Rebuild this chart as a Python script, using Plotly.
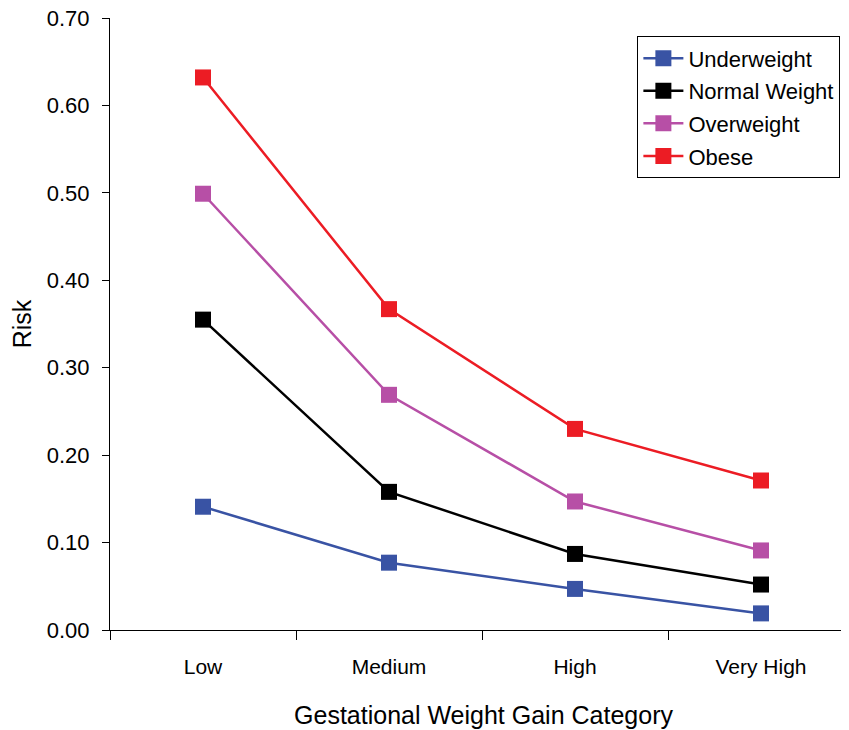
import plotly.graph_objects as go

# Data
categories = ['Low', 'Medium', 'High', 'Very High']
underweight = [0.141, 0.077, 0.047, 0.019]
normal_weight = [0.355, 0.158, 0.087, 0.052]
overweight = [0.499, 0.269, 0.147, 0.091]
obese = [0.632, 0.367, 0.230, 0.171]

dic_colours = {
    'Underweight': '#3953A4',
    'Normal Weight': '#000000',
    'Overweight': '#B74FA6',
    'Obese': '#EC1C24',
}

series = [
    ('Underweight', underweight),
    ('Normal Weight', normal_weight),
    ('Overweight', overweight),
    ('Obese', obese),
]

fig = go.Figure()

for name, vals in series:
    fig.add_trace(
        go.Scatter(x=categories,
                   y=vals,
                   name=name,
                   legendgroup=name,
                   mode='lines+markers',
                   line={'width': 2.5, 'color': dic_colours[name]},
                   marker={'symbol': 'square', 'size': 16,
                           'color': dic_colours[name]},
                   )
    )

fig.update_xaxes(type='category',
                 range=[-0.5, 3.516],
                 tickson='boundaries',
                 ticks='outside',
                 ticklen=9,
                 tickcolor='black',
                 showline=True,
                 linecolor='black',
                 linewidth=1,
                 showgrid=False,
                 zeroline=False,
                 automargin=False,
                 ticklabelstandoff=18,
                 tickfont={'size': 21, 'color': 'black'},
                 title={'text': 'Gestational Weight Gain Category',
                        'font': {'size': 25, 'color': 'black'},
                        'standoff': 29},
                 )

fig.update_yaxes(range=[0, 0.7],
                 dtick=0.1,
                 tickformat='.2f',
                 ticks='outside',
                 ticklen=7,
                 tickcolor='black',
                 showline=True,
                 linecolor='black',
                 linewidth=1,
                 showgrid=False,
                 zeroline=False,
                 automargin=False,
                 ticklabelstandoff=8,
                 ticklabeloverflow='allow',
                 tickfont={'size': 22, 'color': 'black'},
                 title={'text': 'Risk',
                        'font': {'size': 25, 'color': 'black'},
                        'standoff': 12},
                 )

fig.update_layout(width=849,
                  height=730,
                  margin={'l': 102, 'r': 0, 't': 10, 'b': 108},
                  font=dict(family='Liberation Sans, Arial, sans-serif', color='black'),
                  paper_bgcolor='white',
                  plot_bgcolor='white',
                  legend=dict(x=0.706, y=0.97, xanchor='left', yanchor='top',
                              bordercolor='black', borderwidth=1,
                              bgcolor='white',
                              font={'size': 22, 'color': 'black'},
                              itemwidth=40,
                              entrywidth=206,
                              tracegroupgap=1),
                  )

fig.write_html('out.html')
